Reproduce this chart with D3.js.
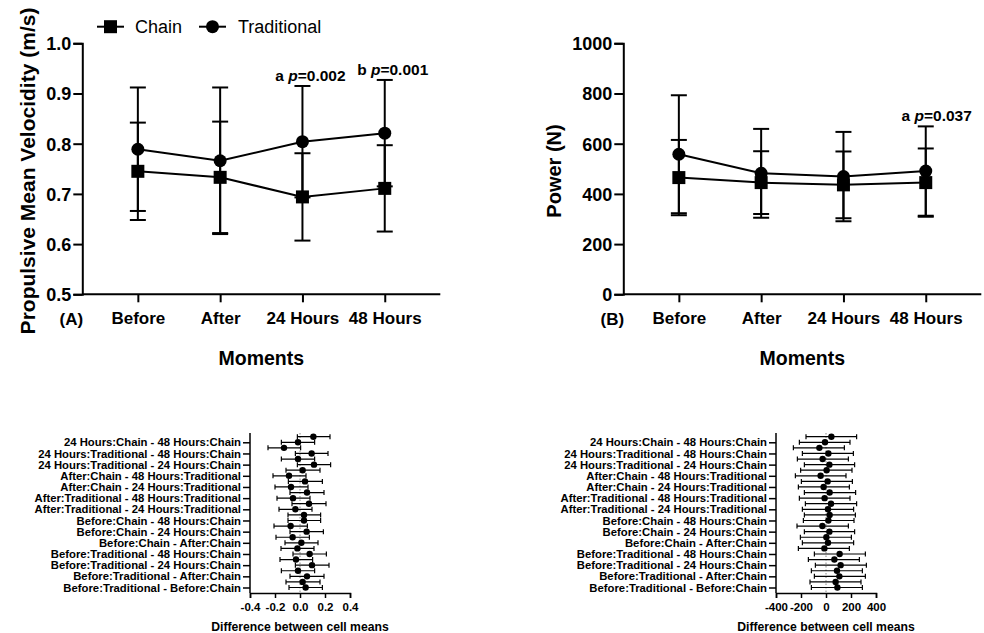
<!DOCTYPE html>
<html>
<head>
<meta charset="utf-8">
<script src="https://cdn.jsdelivr.net/npm/d3@7"></script>
<style>
  body { margin: 0; background: #fff; }
  svg { display: block; }
  text { font-family: "Liberation Sans", Arial, sans-serif; fill: #000; }
</style>
</head>
<body>
<svg id="chart" width="984" height="633"></svg>
<script>
// ---- data ----
var moments = ["Before", "After", "24 Hours", "48 Hours"];

var pmvChain = [0.745, 0.733, 0.694, 0.711];
var pmvChainSD = [0.097, 0.111, 0.087, 0.086];
var pmvTrad = [0.789, 0.766, 0.804, 0.821];
var pmvTradSD = [0.123, 0.146, 0.111, 0.106];

var powChain = [465, 445, 436, 445];
var powChainSD = [150, 125, 133, 136];
var powTrad = [558, 482, 469, 491];
var powTradSD = [235, 177, 178, 178];

var pmvTicks = [0.5, 0.6, 0.7, 0.8, 0.9, 1.0];
var powTicks = [0, 200, 400, 600, 800, 1000];

var compareLabels = [
  "24 Hours:Chain - 48 Hours:Chain",
  "24 Hours:Traditional - 48 Hours:Chain",
  "24 Hours:Traditional - 24 Hours:Chain",
  "After:Chain - 48 Hours:Traditional",
  "After:Chain - 24 Hours:Traditional",
  "After:Traditional - 48 Hours:Traditional",
  "After:Traditional - 24 Hours:Traditional",
  "Before:Chain - 48 Hours:Chain",
  "Before:Chain - 24 Hours:Chain",
  "Before:Chain - After:Chain",
  "Before:Traditional - 48 Hours:Chain",
  "Before:Traditional - 24 Hours:Chain",
  "Before:Traditional - After:Chain",
  "Before:Traditional - Before:Chain"
];

var pmvDiff = [0.107, -0.016, -0.128, 0.093, -0.016, 0.112, 0.021, -0.088, 0.040, -0.072, 0.056, -0.056, 0.072, -0.037,
               0.032, 0.032, -0.075, 0.053, -0.059, 0.011, -0.021, 0.077, -0.032, 0.096, -0.016, 0.056, 0.021, 0.045];
var pmvLo = [-0.021, -0.149, -0.256, -0.037, -0.149, -0.021, -0.112, -0.216, -0.093, -0.200, -0.080, -0.184, -0.064, -0.168,
             -0.096, -0.096, -0.208, -0.080, -0.192, -0.120, -0.152, -0.056, -0.160, -0.037, -0.149, -0.080, -0.112, -0.088];
var pmvHi = [0.240, 0.117, 0.005, 0.224, 0.117, 0.245, 0.160, 0.048, 0.179, 0.064, 0.192, 0.080, 0.208, 0.096,
             0.165, 0.165, 0.059, 0.187, 0.075, 0.144, 0.112, 0.211, 0.101, 0.232, 0.117, 0.192, 0.160, 0.179];
var pmvDiffTicks = [-0.4, -0.2, 0.0, 0.2, 0.4];

var powDiff = [43, -8, -53, 19, -27, 27, 5, -43, 13, -19, 29, -11, 40, 16,
               29, 19, -29, 27, 3, 16, -13, 109, 67, 117, 88, 107, 77, 91];
var powLo = [-160, -213, -261, -189, -229, -173, -203, -245, -197, -221, -173, -213, -165, -189,
             -173, -181, -232, -173, -205, -189, -221, -93, -141, -85, -117, -93, -128, -117];
var powHi = [245, 192, 147, 219, 179, 229, 208, 160, 211, 187, 237, 192, 245, 221,
             235, 224, 179, 229, 203, 221, 187, 315, 267, 323, 291, 315, 280, 291];
var powDiffTicks = [-400, -200, 0, 200, 400];

var svg = d3.select("#chart");
var FONT = "'Liberation Sans', Arial, sans-serif";

// plain hyphen instead of unicode minus, as in the original figure
function hyphen(f) {
  return function (v) { return f(v).replace("\u2212", "-"); };
}

// ---- line chart with error bars ----
function lineChart(o) {
  var g = svg.append("g");
  var x = d3.scalePoint().domain(moments).range([o.left, o.left + 358]).padding(0.675);
  var y = d3.scaleLinear().domain(o.domain).range([294.3, 43.3]);

  var yAxis = g.append("g")
    .attr("transform", "translate(" + o.left + ",0)")
    .call(d3.axisLeft(y).tickValues(o.ticks).tickFormat(o.fmt).tickSize(9).tickPadding(2));
  var xAxis = g.append("g")
    .attr("transform", "translate(0,294.3)")
    .call(d3.axisBottom(x).tickSize(8).tickPadding(10));
  xAxis.select(".domain").attr("d", "M" + o.left + ",0H" + (o.left + 358));
  [xAxis, yAxis].forEach(function (a) {
    a.selectAll("path, line").attr("stroke", "#000").attr("stroke-width", 2);
    a.selectAll("text").attr("font-weight", "bold").attr("font-family", FONT).attr("fill", "#000");
  });
  xAxis.selectAll("text").attr("font-size", 17);
  yAxis.selectAll("text").attr("font-size", 18).attr("dy", "0.36em");

  var series = [
    { mean: o.trad, sd: o.tradSD, shape: "circle" },
    { mean: o.chain, sd: o.chainSD, shape: "square" }
  ];
  series.forEach(function (s) {
    var pts = moments.map(function (m, i) { return { m: m, v: s.mean[i], sd: s.sd[i] }; });
    var eb = g.append("g").attr("stroke", "#000").attr("stroke-width", 2);
    pts.forEach(function (d) {
      var cx = x(d.m);
      eb.append("line").attr("x1", cx).attr("x2", cx).attr("y1", y(d.v + d.sd)).attr("y2", y(d.v - d.sd));
      [d.v + d.sd, d.v - d.sd].forEach(function (v) {
        eb.append("line").attr("x1", cx - 8).attr("x2", cx + 8).attr("y1", y(v)).attr("y2", y(v));
      });
    });
    g.append("path").datum(pts)
      .attr("fill", "none").attr("stroke", "#000").attr("stroke-width", 2)
      .attr("d", d3.line().x(function (d) { return x(d.m); }).y(function (d) { return y(d.v); }));
    pts.forEach(function (d) {
      if (s.shape === "circle") {
        g.append("circle").attr("cx", x(d.m)).attr("cy", y(d.v)).attr("r", 6.5).attr("fill", "#000");
      } else {
        g.append("rect").attr("x", x(d.m) - 6.5).attr("y", y(d.v) - 6.5).attr("width", 13).attr("height", 13).attr("fill", "#000");
      }
    });
  });

  // significance notes
  o.notes.forEach(function (n) {
    var i = moments.indexOf(n.m);
    var top = y(o.trad[i] + o.tradSD[i]);
    var t = g.append("text").attr("x", x(n.m) + n.dx).attr("y", top - 5)
      .attr("text-anchor", "middle").attr("font-size", 15.5).attr("font-weight", "bold");
    t.append("tspan").text(n.letter + " ");
    t.append("tspan").attr("font-style", "italic").text("p");
    t.append("tspan").text("=" + n.p);
  });

  g.append("text").attr("x", o.left - 11).attr("y", 325).attr("text-anchor", "middle")
    .attr("font-size", 17).attr("font-weight", "bold").text(o.panel);
  g.append("text").attr("x", o.left + 179).attr("y", 365).attr("text-anchor", "middle")
    .attr("font-size", 19.5).attr("font-weight", "bold").text("Moments");
  g.append("text").attr("transform", "translate(" + o.titleX + ",171) rotate(-90)")
    .attr("text-anchor", "middle").attr("font-size", o.titleSize).attr("font-weight", "bold").text(o.title);
}

lineChart({
  left: 82.3, domain: [0.5, 1.0], ticks: pmvTicks, fmt: d3.format(".1f"),
  chain: pmvChain, chainSD: pmvChainSD, trad: pmvTrad, tradSD: pmvTradSD,
  notes: [{ m: "24 Hours", letter: "a", p: "0.002", dx: 8 }, { m: "48 Hours", letter: "b", p: "0.001", dx: 8 }],
  panel: "(A)", title: "Propulsive Mean Velocidity (m/s)", titleX: 35, titleSize: 21
});
lineChart({
  left: 623.3, domain: [0, 1000], ticks: powTicks, fmt: d3.format("d"),
  chain: powChain, chainSD: powChainSD, trad: powTrad, tradSD: powTradSD,
  notes: [{ m: "48 Hours", letter: "a", p: "0.037", dx: 11 }],
  panel: "(B)", title: "Power (N)", titleX: 561, titleSize: 20
});

// legend
var legend = svg.append("g");
[{ name: "Chain", shape: "square", x: 97, tx: 135 }, { name: "Traditional", shape: "circle", x: 199, tx: 238 }]
  .forEach(function (d) {
    legend.append("line").attr("x1", d.x).attr("x2", d.x + 27).attr("y1", 26.7).attr("y2", 26.7)
      .attr("stroke", "#000").attr("stroke-width", 2);
    if (d.shape === "square") {
      legend.append("rect").attr("x", d.x + 13.5 - 6.5).attr("y", 26.7 - 6.5).attr("width", 13).attr("height", 13).attr("fill", "#000");
    } else {
      legend.append("circle").attr("cx", d.x + 13.5).attr("cy", 26.7).attr("r", 6.5).attr("fill", "#000");
    }
    legend.append("text").attr("x", d.tx).attr("y", 33).attr("font-size", 18).text(d.name);
  });

// ---- forest plots of multiple comparisons ----
function forest(o) {
  var g = svg.append("g");
  var x = d3.scaleLinear().domain([o.ticks[0], o.ticks[o.ticks.length - 1]]).range([o.left, o.left + 100]);
  var rows = d3.range(1, o.mean.length + 1);
  var y = d3.scaleLinear().domain([1, rows.length]).range([436.7, 587.5]);

  g.append("line").attr("x1", x(0)).attr("x2", x(0)).attr("y1", 433).attr("y2", 593)
    .attr("stroke", "#888").attr("stroke-width", 1).attr("stroke-dasharray", "1.5,2");

  var xAxis = g.append("g").attr("transform", "translate(0,593)")
    .call(d3.axisBottom(x).tickValues(o.ticks).tickFormat(hyphen(o.fmt)).tickSize(5).tickPadding(5));
  var labelRows = compareLabels.map(function (l, k) { return 2 * k + 2; });
  var yAxis = g.append("g").attr("transform", "translate(" + o.left + ",0)")
    .call(d3.axisLeft(y).tickValues(labelRows).tickFormat(function (r) { return compareLabels[r / 2 - 1]; })
      .tickSize(7).tickPadding(2));
  yAxis.select(".domain").attr("d", "M0,433V593");
  [xAxis, yAxis].forEach(function (a) {
    a.selectAll("path, line").attr("stroke", "#000").attr("stroke-width", 1.5);
    a.selectAll("text").attr("font-weight", "bold").attr("fill", "#000").attr("font-family", FONT);
  });
  xAxis.selectAll("text").attr("font-size", 11.5);
  yAxis.selectAll("text").attr("font-size", 11.3);

  var eb = g.append("g").attr("stroke", "#000").attr("stroke-width", 1.2);
  rows.forEach(function (r, i) {
    var cy = y(r);
    eb.append("line").attr("x1", x(o.lo[i])).attr("x2", x(o.hi[i])).attr("y1", cy).attr("y2", cy);
    [o.lo[i], o.hi[i]].forEach(function (v) {
      eb.append("line").attr("x1", x(v)).attr("x2", x(v)).attr("y1", cy - 2.5).attr("y2", cy + 2.5);
    });
    g.append("circle").attr("cx", x(o.mean[i])).attr("cy", cy).attr("r", 3.2).attr("fill", "#000");
  });

  g.append("text").attr("x", x(0)).attr("y", 631).attr("text-anchor", "middle")
    .attr("font-size", 12.2).attr("font-weight", "bold").text("Difference between cell means");
}

forest({ left: 250, ticks: pmvDiffTicks, fmt: d3.format(".1f"), mean: pmvDiff, lo: pmvLo, hi: pmvHi });
forest({ left: 776, ticks: powDiffTicks, fmt: d3.format("d"), mean: powDiff, lo: powLo, hi: powHi });
</script>
</body>
</html>
